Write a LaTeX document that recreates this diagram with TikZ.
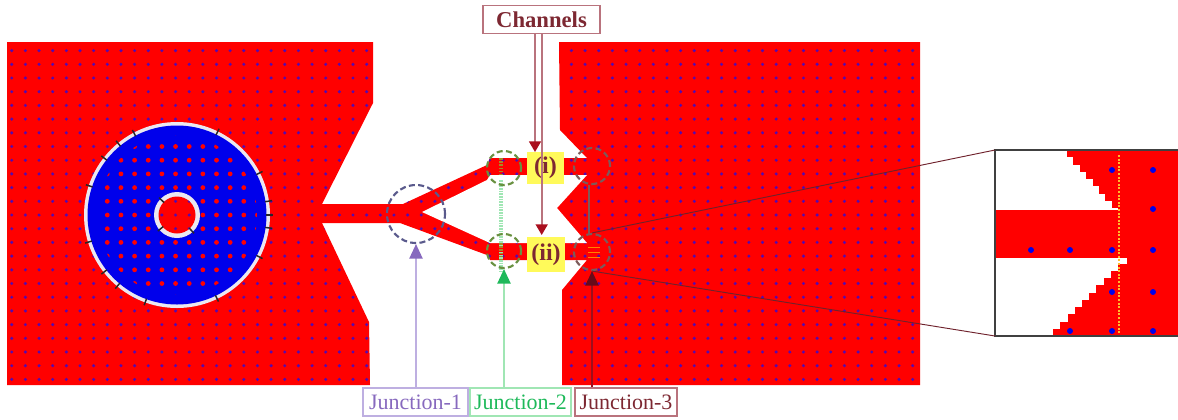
\documentclass[tikz,border=0pt]{standalone}
\usepackage{fontspec}
\setmainfont{Liberation Serif}
\usetikzlibrary{arrows.meta}
\definecolor{rd}{RGB}{255,0,0}
\definecolor{bl}{RGB}{0,0,235}
\definecolor{dotc}{RGB}{85,10,175}
\definecolor{maroon}{RGB}{125,40,50}
\definecolor{mframe}{RGB}{185,115,125}
\definecolor{purp}{RGB}{135,105,190}
\definecolor{purpl}{RGB}{190,175,225}
\definecolor{slatec}{RGB}{90,90,140}
\definecolor{grn}{RGB}{30,185,90}
\definecolor{grnl}{RGB}{160,230,180}
\definecolor{olivec}{RGB}{105,145,65}
\definecolor{brownc}{RGB}{125,90,90}
\definecolor{darkm}{RGB}{105,10,25}
\definecolor{chtip}{RGB}{170,15,30}
\definecolor{yel}{RGB}{255,250,90}
\definecolor{ringc}{RGB}{235,232,240}
\tikzset{
  x=0.75pt,y=-0.75pt,
  labelbox/.style={draw,line width=1.1pt,inner sep=0pt,minimum height=21pt,font=\fontsize{16.5}{18}\selectfont},
  ringnode/.style={circle,draw,inner sep=0pt,line width=1.6pt,dash pattern=on 4.5pt off 2.5pt},
  chanbox/.style={fill=yel,inner sep=0pt,text=maroon,font=\fontsize{18}{20}\selectfont\bfseries},
  tickmark/.style={black!85,line width=1.1pt},
  arrowline/.style={line width=1.2pt},
  bigtip/.style={-{Triangle[length=11pt,width=10pt,color=#1]}},
  smalltip/.style={-{Triangle[length=8pt,width=9pt,color=#1]}},
}
\begin{document}
\begin{tikzpicture}
\useasboundingbox (0,0) rectangle (1178,419);
% --- the red conductor with its grid of dots
\def\redoutline{(7,42) -- (373,42) -- (373,103) -- (322,204) -- (403,204) -- (487,165) -- (490,158) -- (587,158) -- (560,130) -- (559,42) -- (920,42) -- (920,385) -- (562,385) -- (562,290) -- (587,260) -- (490,260) -- (487,255) -- (400,223) -- (322,223) -- (369,322) -- (370,385) -- (7,385) -- cycle}
\fill[rd] \redoutline;
\begin{scope}
  \clip \redoutline;
  \foreach \i in {-5,...,61}{
    \foreach \j in {-12,...,12}{
      \fill[dotc] ({80+13.65*\i},{215+13.7*\j}) circle[radius=1.7];
    }
  }
\end{scope}
\fill[white] (422,212) -- (487,180) -- (490,175) -- (587,175) -- (557,208) -- (587,243) -- (490,243) -- cycle;
% --- patch: annulus
\fill[ringc] (177,215) circle[radius=93];
\fill[bl] (177,215) circle[radius=89.5];
\begin{scope}
  \clip (177,215) circle[radius=80];
  \foreach \i in {-6,...,6}{
    \foreach \j in {-6,...,6}{
      \fill[rd] ({80+13.65*(\i+7)},{215+13.7*\j}) circle[radius=2.4];
    }
  }
\end{scope}
\fill[ringc] (177,215) circle[radius=23];
\fill[rd] (177,215) circle[radius=18.5];
\begin{scope}
  \clip (177,215) circle[radius=18.5];
  \foreach \i in {-2,...,2}{
    \foreach \j in {-2,...,2}{
      \fill[dotc] ({80+13.65*(\i+7)},{215+13.7*\j}) circle[radius=1.7];
    }
  }
\end{scope}
\foreach \a in {117.7,129.4,142,161.6,197,218,230,250,295.6,333,352,0,8.6,27,64}{
  \draw[tickmark] ({177+89*cos(\a)},{215-89*sin(\a)}) -- ({177+96*cos(\a)},{215-96*sin(\a)});
}
\foreach \a in {136,220,313}{
  \draw[tickmark] ({177+18*cos(\a)},{215-18*sin(\a)}) -- ({177+25*cos(\a)},{215-25*sin(\a)});
}
% --- yellow channel labels
\node[chanbox,minimum width=28pt,minimum height=24pt] (yi) at (545.5,168) {(i)};
\node[chanbox,minimum width=28.5pt,minimum height=26pt] (yii) at (546,254.5) {(ii)};
% --- faint marks between and inside the rings
\draw[grnl,line width=3.6pt,dash pattern=on 1.2pt off 0.8pt] (501,180) -- (501,272);
\draw[olivec!60!orange,line width=3.2pt,dash pattern=on 1.2pt off 1.2pt] (501,158) -- (501,175);
\draw[olivec!60!orange,line width=3.2pt,dash pattern=on 1.2pt off 1.2pt] (501,243) -- (501,260);
\draw[orange,line width=0.7pt] (588,247) -- (600,247) (588,252) -- (600,252) (588,257) -- (600,257);
% --- junction rings
\node[ringnode,slatec,minimum size=43.5pt] (c1) at (416,214) {};
\node[ringnode,olivec,minimum size=25.5pt] (c2t) at (504,168) {};
\node[ringnode,olivec,minimum size=25.5pt] (c2b) at (504,251) {};
\node[ringnode,brownc,minimum size=27pt] (c3t) at (592,166) {};
\node[ringnode,brownc,minimum size=27pt] (c3b) at (592,252) {};
\draw[brownc,line width=1.1pt] (c3t.south) ++(-3,0) -- ++(0,50);
% --- labels
\node[labelbox,draw=purpl,text=purp,minimum width=78.5pt] (j1) at (415.5,402) {Junction-1};
\node[labelbox,draw=grnl,text=grn,minimum width=75.5pt] (j2) at (520.5,402) {Junction-2};
\node[labelbox,draw=mframe,text=maroon,minimum width=76.5pt] (j3) at (626,402) {Junction-3};
\node[labelbox,draw=mframe,text=maroon,minimum width=87.5pt,font=\fontsize{17}{19}\selectfont\bfseries] (ch) at (541.5,19.5) {Channels};
% --- junction arrows
\draw[arrowline,purpl,bigtip=purp] (j1.north -| c1.south) -- (c1.south);
\draw[arrowline,grnl,bigtip=grn] (j2.north -| c2b.south) -- (c2b.south);
\draw[arrowline,chtip!80!darkm,bigtip=darkm] (j3.north -| c3b.south) -- (c3b.south);
% --- channel arrows
\coordinate (ai) at (535,152);
\coordinate (aii) at (541.7,235);
\draw[arrowline,mframe,smalltip=chtip] (ch.south -| ai) -- (ai);
\draw[arrowline,mframe,smalltip=chtip] (ch.south -| aii) -- (aii);
% --- enlarged inset
\coordinate (inNW) at (995,150);
\coordinate (inSW) at (995,336);
\fill[rd] (995,150) rectangle (1178,336);
\foreach \k in {0,...,7}{
  \fill[white] (995,{150+7.25*\k}) rectangle ({1067+6.4*\k},{150+7.25*(\k+1)+0.3});
}
\fill[white] (995,208) rectangle (1118,210);
\foreach \k in {0,...,9}{
  \fill[white] (995,{263+7.3*\k}) rectangle ({1118-7.2*\k},{263+7.3*(\k+1)+0.3});
}
\fill[white] (995,258) rectangle (1127,263.5);
\foreach \p in {(1112,170),(1153,170),(1153,209),(1031,250),(1070,250),(1112,250),(1153,250),(1112,292),(1153,292),(1070,331),(1112,331),(1153,331)}{
  \fill[bl] \p circle[radius=3];
}
\draw[yel!50!orange,line width=1.6pt,dash pattern=on 1.5pt off 1.2pt] (1119,155) -- (1119,336);
\draw[black!75,line width=1.6pt] (1178,150) -- (inNW) -- (inSW) -- (1178,336);
% --- leaders to the inset
\draw[darkm!70!brownc,line width=0.7pt] (c3b.north) -- (inNW);
\draw[darkm!70!brownc,line width=0.7pt] (c3b.south) -- (inSW);
\end{tikzpicture}
\end{document}
